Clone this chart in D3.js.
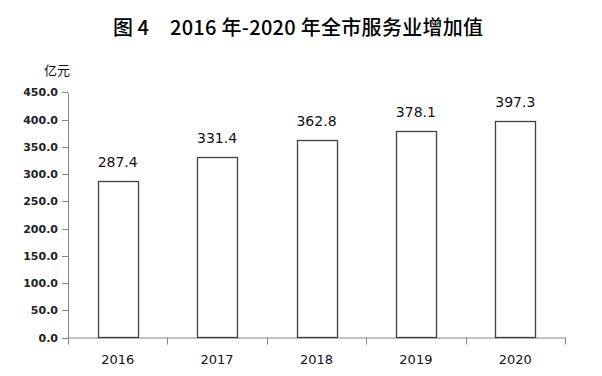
<html>
  <head>
    <meta charset="utf-8" />
    <script src="https://cdnjs.cloudflare.com/ajax/libs/d3/7.6.1/d3.min.js"></script>
    <style>
      body { margin: 0; background: #fff; }
      svg { display: block; }
      .axis path, .axis line { stroke: #868686; shape-rendering: crispEdges; }
    </style>
  </head>
  <body>
    <svg width="602" height="376"></svg>
  </body>
  <script>
    const years = ["2016", "2017", "2018", "2019", "2020"];
    const values = [287.4, 331.4, 362.8, 378.1, 397.3];
    const yTicks = [0, 50, 100, 150, 200, 250, 300, 350, 400, 450];

    const svg = d3.select("svg");
    const plotLeft = 68, plotRight = 565, plotTop = 92.3, plotBottom = 337.5;

    const x = d3.scaleBand().domain(years).range([plotLeft, plotRight]).paddingInner(0.6).paddingOuter(0.3);
    const xEdge = d3.scaleLinear().domain([0, years.length]).range([plotLeft, plotRight]);
    const y = d3.scaleLinear().domain([0, 450]).range([plotBottom, plotTop]);

    // title
    const title = svg.append("text")
      .attr("y", 35)
      .style("font-family", "'Noto Sans CJK SC'")
      .style("font-size", "20px")
      .style("font-weight", "500")
      .style("fill", "#000");
    title.append("tspan").attr("x", 113).text("图 4");
    title.append("tspan").attr("x", 170).attr("textLength", 313).attr("lengthAdjust", "spacing")
      .text("2016 年-2020 年全市服务业增加值");

    svg.append("text")
      .attr("x", 57).attr("y", 75)
      .attr("text-anchor", "middle")
      .style("font-family", "'Noto Sans CJK SC'")
      .style("font-size", "13px")
      .style("fill", "#111")
      .text("亿元");

    // y axis
    const yAxis = d3.axisLeft(y).tickValues(yTicks).tickFormat(d3.format(".1f")).tickSize(6).tickSizeOuter(0);
    const yg = svg.append("g").attr("class", "axis").attr("transform", `translate(${plotLeft},0)`).call(yAxis);
    yg.selectAll("text")
      .attr("x", -10)
      .style("font-family", "'DejaVu Sans'")
      .style("font-size", "11px")
      .style("font-weight", "bold")
      .style("fill", "#222");

    // x axis with ticks between categories
    svg.append("line")
      .attr("x1", plotLeft).attr("x2", plotRight).attr("y1", plotBottom + 0.5).attr("y2", plotBottom + 0.5)
      .style("stroke", "#868686");
    svg.selectAll("line.xt").data(d3.range(years.length + 1)).enter().append("line")
      .attr("class", "xt")
      .attr("x1", (d) => Math.round(xEdge(d)) + 0.5).attr("x2", (d) => Math.round(xEdge(d)) + 0.5)
      .attr("y1", plotBottom).attr("y2", plotBottom + 7)
      .style("stroke", "#868686");

    svg.selectAll("text.xlab").data(years).enter().append("text")
      .attr("class", "xlab")
      .attr("x", (d) => x(d) + x.bandwidth() / 2)
      .attr("y", 364)
      .attr("text-anchor", "middle")
      .style("font-family", "'DejaVu Sans'")
      .style("font-size", "13px")
      .style("fill", "#111")
      .text((d) => d);

    // bars
    svg.selectAll("rect.bar").data(values).enter().append("rect")
      .attr("class", "bar")
      .attr("x", (d, i) => Math.round(x(years[i])) + 0.5)
      .attr("y", (d) => Math.round(y(d)) + 0.5)
      .attr("width", Math.round(x.bandwidth()))
      .attr("height", (d) => plotBottom - Math.round(y(d)) - 0.5)
      .style("fill", "#fff")
      .style("stroke", "#404040")
      .style("stroke-width", 1.3);

    svg.selectAll("text.val").data(values).enter().append("text")
      .attr("class", "val")
      .attr("x", (d, i) => x(years[i]) + x.bandwidth() / 2)
      .attr("y", (d) => y(d) - 14)
      .attr("text-anchor", "middle")
      .style("font-family", "'DejaVu Sans'")
      .style("font-size", "14px")
      .style("fill", "#111")
      .text((d) => d.toFixed(1));
  </script>
</html>
